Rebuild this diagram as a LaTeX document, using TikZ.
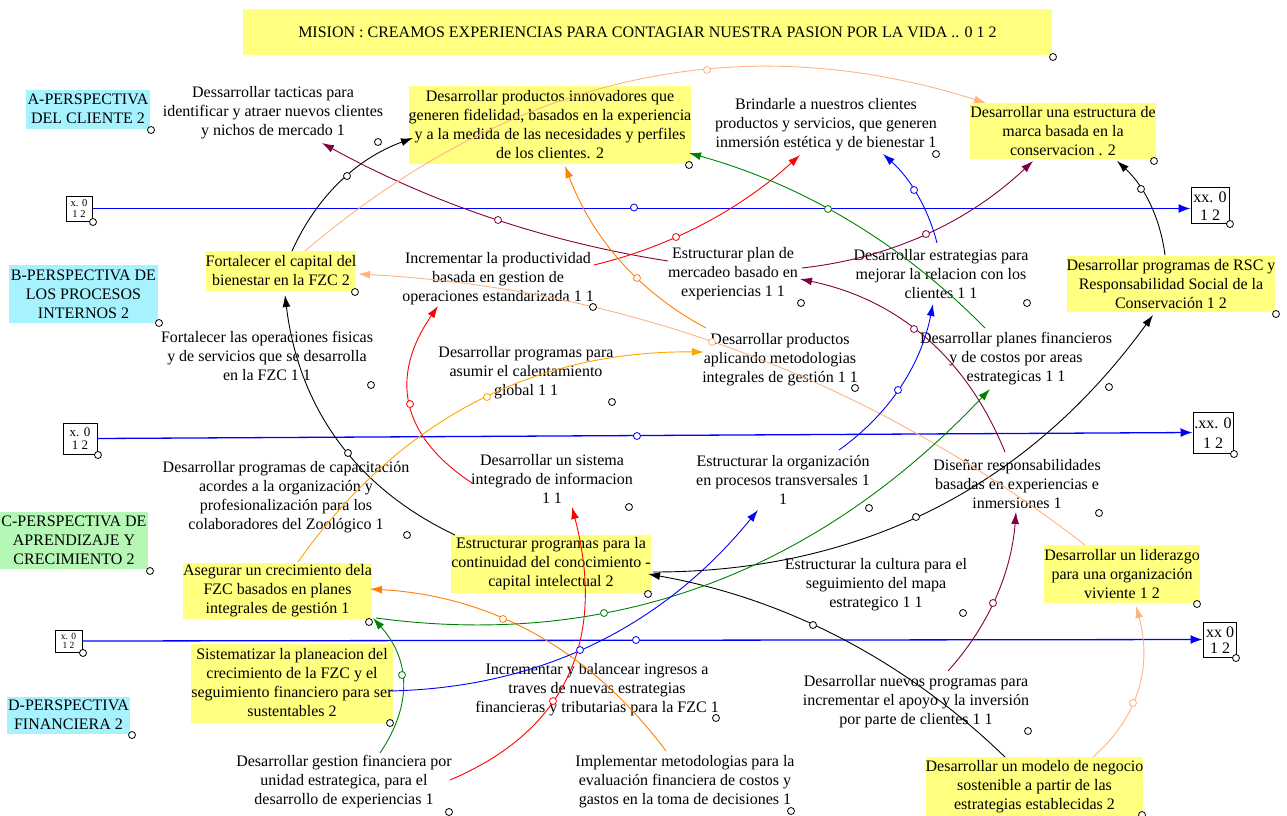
\documentclass[tikz,border=0pt]{standalone}
\usepackage{fontspec}
\setmainfont{Liberation Serif}
\usetikzlibrary{calc,arrows.meta}
\definecolor{vyel}{HTML}{FFFF80}
\definecolor{vcyan}{HTML}{A6F2FF}
\definecolor{vgrn}{HTML}{B5F7B5}
\definecolor{vmar}{HTML}{800040}
\definecolor{vora}{HTML}{FF8000}
\definecolor{vamb}{HTML}{FFA500}
\definecolor{vpch}{HTML}{FFB380}
\definecolor{vgreen}{HTML}{008000}
\definecolor{vred}{HTML}{FF0000}
\definecolor{vblue}{HTML}{0000FF}
\tikzset{
 txt/.style={font=\fontsize{16}{19}\selectfont, align=center, inner sep=0pt},
 ybox/.style={txt, fill=vyel},
 pbox/.style={txt, fill=vcyan},
 gbox/.style={txt, fill=vgrn},
 xbox/.style={draw, line width=1pt, inner sep=0pt, fill=white},
 hd/.style={circle, draw=black, fill=white, inner sep=0pt, minimum size=7pt, line width=0.8pt},
 lk/.style={line width=0.9pt, -{Latex[length=12pt,width=8pt]}},
 hl/.style={vblue, line width=1.3pt, -{Latex[length=12pt,width=9pt]}},
}
\newcommand\vlink[4]{%
  \draw[lk,#1] let \p1=(#2), \p2=(#3), \p3=(#4),
    \n1={veclen((\x2-\x1)/100,(\y2-\y1)/100)},
    \n2={veclen((\x3-\x2)/100,(\y3-\y2)/100)},
    \n3={\n1/(\n1+\n2)}, \n4={1-\n3},
    \p4=({(\x2-\n4*\n4*\x1-\n3*\n3*\x3)/(2*\n3*\n4)},{(\y2-\n4*\n4*\y1-\n3*\n3*\y3)/(2*\n3*\n4)})
  in (\p1) .. controls ($(\p1)!2/3!(\p4)$) and ($(\p3)!2/3!(\p4)$) .. (\p3);
  \node[hd,draw=#1] at (#3) {};
}
\begin{document}
\begin{tikzpicture}[x=1pt,y=-1pt]
\useasboundingbox (0,0) rectangle (1287,816);

% ---------- boxed nodes ----------
\node[ybox, minimum width=809, minimum height=46] (mision) at (647.5,32) {MISION : CREAMOS EXPERIENCIAS PARA CONTAGIAR NUESTRA PASION POR LA VIDA .. 0 1 2};
\node[pbox, minimum width=124, minimum height=39] (pA) at (88,109) {A-PERSPECTIVA\\DEL CLIENTE 2};
\node[pbox, minimum width=149, minimum height=58] (pB) at (83.5,294) {B-PERSPECTIVA DE\\LOS PROCESOS\\INTERNOS 2};
\node[gbox, minimum width=148, minimum height=57] (pC) at (74,540) {C-PERSPECTIVA DE\\APRENDIZAJE Y\\CRECIMIENTO 2};
\node[pbox, minimum width=123, minimum height=37] (pD) at (68.5,715) {D-PERSPECTIVA\\FINANCIERA 2};

\node[ybox, minimum width=274, minimum height=78] (innov) at (550,125) {Desarrollar productos innovadores que\\generen fidelidad, basados en la experiencia\\y a la medida de las necesidades y perfiles\\de los clientes. 2};
\node[ybox, minimum width=182, minimum height=56] (marca) at (1063,131) {Desarrollar una estructura de\\marca basada en la\\conservacion . 2};
\node[ybox, minimum width=146, minimum height=40] (fcap) at (281,271) {Fortalecer el capital del\\bienestar en la FZC 2};
\node[ybox, minimum width=208, minimum height=56] (rsc) at (1171,284) {Desarrollar programas de RSC y\\Responsabilidad Social de la\\Conservación 1 2};
\node[ybox, minimum width=192, minimum height=58] (cont) at (551,564) {Estructurar programas para la\\continuidad del conocimiento -\\capital intelectual 2};
\node[ybox, minimum width=148, minimum height=58] (lider) at (1122,574) {Desarrollar un liderazgo\\para una organización\\viviente 1 2};
\node[ybox, minimum width=181, minimum height=56] (aseg) at (277.5,591) {Asegurar un crecimiento dela\\FZC basados en planes\\integrales de gestión 1};
\node[ybox, minimum width=192, minimum height=79] (sistz) at (292,683) {Sistematizar la planeacion del\\crecimiento de la FZC y el\\seguimiento financiero para ser\\sustentables 2};
\node[ybox, minimum width=211, minimum height=59] (model) at (1034.5,786.5) {Desarrollar un modelo de negocio\\sostenible a partir de las\\estrategias establecidas 2};

% ---------- plain text nodes ----------
\node[txt] (tact) at (273,113) {Dessarrollar tacticas para\\identificar y atraer nuevos clientes\\y nichos de mercado 1};
\node[txt] (brind) at (826,125) {Brindarle a nuestros clientes\\productos y servicios, que generen\\inmersión estética y de bienestar 1};
\node[txt] (prod) at (498,279) {Incrementar la productividad\\basada en gestion de\\operaciones estandarizada 1 1};
\node[txt] (plan) at (733,274) {Estructurar plan de\\mercadeo basado en\\experiencias 1 1};
\node[txt] (estr) at (941,274) {Desarrollar estrategias para\\mejorar la relacion con los\\clientes 1 1};
\node[txt] (oper) at (267,356) {Fortalecer las operaciones fisicas\\y de servicios que se desarrolla\\en la FZC 1 1};
\node[txt] (calen) at (526,373) {Desarrollar programas para\\asumir el calentamiento\\global 1 1};
\node[txt] (metod) at (780,360) {Desarrollar productos\\aplicando metodologias\\integrales de gestión 1 1};
\node[txt] (planf) at (1016,359) {Desarrollar planes financieros\\y de costos por areas\\estrategicas 1 1};
\node[txt] (capac) at (286,497) {Desarrollar programas de capacitación\\acordes a la organización y\\profesionalización para los\\colaboradores del Zoológico 1};
\node[txt] (sist) at (552,479) {Desarrollar un sistema\\integrado de informacion\\1 1};
\node[txt] (orgz) at (783,480) {Estructurar la organización\\en procesos transversales 1\\1};
\node[txt] (disen) at (1017,484) {Diseñar responsabilidades\\basadas en experiencias e\\inmersiones 1};
\node[txt] (cult) at (876,585) {Estructurar la cultura para el\\seguimiento del mapa\\estrategico 1 1};
\node[txt] (incr) at (597,690) {Incrementar y balancear ingresos a\\traves de nuevas estrategias\\financieras y tributarias para la FZC 1};
\node[txt] (nuevo) at (916,702) {Desarrollar nuevos programas para\\incrementar el apoyo y la inversión\\por parte de clientes 1 1};
\node[txt] (gest) at (344,782) {Desarrollar gestion financiera por\\unidad estrategica, para el\\desarrollo de experiencias 1};
\node[txt] (impl) at (685,782) {Implementar metodologias para la\\evaluación financiera de costos y\\gastos en la toma de decisiones 1};

% ---------- small level boxes ----------
\node[xbox, minimum width=26, minimum height=25] (xb1) at (79,208.5) {};
\node[txt, font=\fontsize{10.5}{10.5}\selectfont] (xb1t) at (79,208.5) {x. 0\\1 2};
\node[xbox, minimum width=38, minimum height=36] (xb2) at (1210,205) {};
\node[txt, font=\fontsize{16}{18}\selectfont] (xb2t) at (1210,206) {xx. 0\\1 2};
\node[xbox, minimum width=34, minimum height=31] (xb3) at (80,438.5) {};
\node[txt, font=\fontsize{13}{13.5}\selectfont] (xb3t) at (80,438.5) {x. 0\\1 2};
\node[xbox, minimum width=40, minimum height=41] (xb4) at (1213,432.5) {};
\node[txt, font=\fontsize{16}{20}\selectfont] (xb4t) at (1213,433) {.xx. 0\\1 2};
\node[xbox, minimum width=27, minimum height=22] (xb5) at (68.5,641) {};
\node[txt, font=\fontsize{9.5}{9.5}\selectfont] (xb5t) at (68.5,641) {x. 0\\1 2};
\node[xbox, minimum width=33, minimum height=35] (xb6) at (1219.5,639.5) {};
\node[txt, font=\fontsize{16}{15.5}\selectfont] (xb6t) at (1220,640) {xx 0\\1 2};

% ---------- horizontal level flows ----------
\draw[hl] (xb1.east) -- (xb1.east -| xb2.west);
\draw[hl] (xb3.east) -- (xb4.west);
\draw[hl] (xb5.east) -- (xb6.west);
\node[hd,draw=vblue] (hf1) at (634,207.5) {};
\node[hd,draw=vblue] (hf2) at (637,436) {};
\node[hd,draw=vblue] (hf3) at (636,640) {};

% ---------- connector end points ----------
\coordinate (fcap-n1) at (292,251);   \coordinate (innov-w) at (413,138);  \coordinate (hA) at (347,176);
\coordinate (cont-nw) at (455,535);   \coordinate (fcap-s) at (285,295);   \coordinate (hB) at (348,453);
\coordinate (rsc-n) at (1165,255);    \coordinate (marca-s1) at (1117,161); \coordinate (hC) at (1141,189);
\coordinate (cont-e1) at (653,572);   \coordinate (rsc-sw) at (1153,315);  \coordinate (hD1) at (916,517);
\coordinate (model-n1) at (1005,757); \coordinate (cont-e2) at (648,574);  \coordinate (hD2) at (813,625);
\coordinate (plan-w) at (668,261);    \coordinate (tact-se) at (322,143);  \coordinate (hE) at (498,220);
\coordinate (plan-e1) at (802,268);   \coordinate (marca-s2) at (1033,161); \coordinate (hF) at (926,234);
\coordinate (disen-n1) at (1005,452); \coordinate (plan-e2) at (800,279);  \coordinate (hG) at (914,329);
\coordinate (nuevo-n) at (948,671);   \coordinate (disen-s) at (1016,512); \coordinate (hH) at (993,603);
\coordinate (prod-e) at (594,265);    \coordinate (brind-sw) at (800,155); \coordinate (hI) at (676,237);
\coordinate (sist-w) at (472,483);    \coordinate (prod-s) at (438,306);   \coordinate (hJ) at (410,404);
\coordinate (gest-e) at (450,780);    \coordinate (sist-s) at (572,507);   \coordinate (hK) at (553,701);
\coordinate (metod-nw) at (706,328);  \coordinate (innov-s) at (565,166);  \coordinate (hL) at (637,278);
\coordinate (aseg-n) at (298,562);    \coordinate (metod-w) at (704,352);  \coordinate (hM) at (487,397);
\coordinate (impl-n) at (666,751);    \coordinate (aseg-e) at (370,589);   \coordinate (hN) at (503,619);
\coordinate (lider-n) at (1085,545);  \coordinate (fcap-e) at (358,274);   \coordinate (hO) at (712,342);
\coordinate (model-n2) at (1093,757); \coordinate (lider-s) at (1136,606); \coordinate (hP) at (1133,703);
\coordinate (fcap-n2) at (305,251);   \coordinate (marca-nw) at (986,103); \coordinate (hQ) at (707,70);
\coordinate (planf-nw) at (985,328);  \coordinate (innov-e) at (689,153);  \coordinate (hR) at (828,209);
\coordinate (gest-n) at (380,753);    \coordinate (aseg-se) at (373,618);  \coordinate (hS) at (402,675);
\coordinate (aseg-se2) at (376,618);  \coordinate (planf-s) at (990,389);  \coordinate (hT) at (604,613);
\coordinate (sistz-e) at (388,691);   \coordinate (orgz-s) at (758,510);   \coordinate (hU) at (580,650);
\coordinate (orgz-ne) at (839,450);   \coordinate (estr-s) at (933,304);   \coordinate (hV) at (898,390);
\coordinate (estr-n) at (937,243);    \coordinate (brind-s) at (883,154);  \coordinate (hW) at (914,190);

% ---------- connectors ----------
\vlink{black}{fcap-n1}{hA}{innov-w}
\vlink{black}{cont-nw}{hB}{fcap-s}
\vlink{black}{rsc-n}{hC}{marca-s1}
\vlink{black}{cont-e1}{hD1}{rsc-sw}
\vlink{black}{model-n1}{hD2}{cont-e2}
\vlink{vmar}{plan-w}{hE}{tact-se}
\vlink{vmar}{plan-e1}{hF}{marca-s2}
\vlink{vmar}{disen-n1}{hG}{plan-e2}
\vlink{vmar}{nuevo-n}{hH}{disen-s}
\vlink{vred}{prod-e}{hI}{brind-sw}
\vlink{vred}{sist-w}{hJ}{prod-s}
\vlink{vred}{gest-e}{hK}{sist-s}
\vlink{vora}{metod-nw}{hL}{innov-s}
\vlink{vamb}{aseg-n}{hM}{metod-w}
\vlink{vora}{impl-n}{hN}{aseg-e}
\vlink{vpch}{lider-n}{hO}{fcap-e}
\vlink{vpch}{model-n2}{hP}{lider-s}
\vlink{vpch}{fcap-n2}{hQ}{marca-nw}
\vlink{vgreen}{planf-nw}{hR}{innov-e}
\vlink{vgreen}{gest-n}{hS}{aseg-se}
\vlink{vgreen}{aseg-se2}{hT}{planf-s}
\vlink{vblue}{sistz-e}{hU}{orgz-s}
\vlink{vblue}{orgz-ne}{hV}{estr-s}
\vlink{vblue}{estr-n}{hW}{brind-s}

% ---------- node handles ----------
\foreach \nm/\p in {mision/{1053,57}, pA/{151,130}, tact/{378,142}, innov/{689,165}, brind/{936,154},
  marca/{1154,161}, xb2/{1230,224}, xb1/{93,222}, pB/{159,323}, fcap/{355,292}, prod/{593,307},
  plan/{801,303}, estr/{1027,303}, rsc/{1276,314}, oper/{371,385}, calen/{612,402}, metod/{855,388},
  planf/{1109,387}, xb3/{98,455}, xb4/{1234,454}, capac/{407,535}, sist/{629,507}, orgz/{869,508},
  disen/{1099,513}, pC/{150,571}, cont/{648,594}, cult/{963,613}, lider/{1197,604}, aseg/{369,622},
  xb5/{83,653}, xb6/{1236,658}, sistz/{390,723}, pD/{132,735}, incr/{716,718}, nuevo/{1028,731},
  gest/{449,812}, impl/{791,811}, model/{1142,815}}
  \node[hd] (h-\nm) at (\p) {};
\end{tikzpicture}
\end{document}
